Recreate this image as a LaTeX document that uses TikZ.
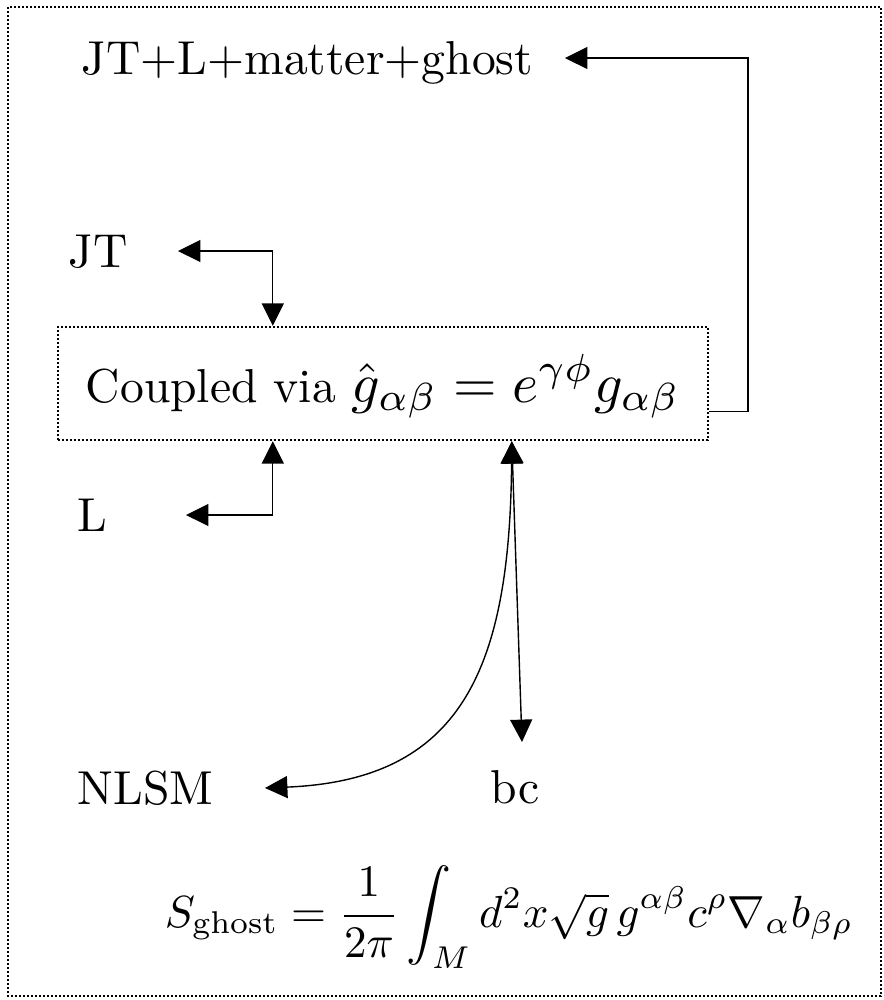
\documentclass[tikz,border=0pt]{standalone}
\usepackage{fix-cm}
\usetikzlibrary{arrows.meta,calc}
\newcommand{\bigtxt}[1]{\scalebox{1.19}{#1}}
\begin{document}
\begin{tikzpicture}[x=0.25pt,y=-0.25pt,
  tip/.tip={Triangle[length=5.6pt,width=5.5pt]},
  arr/.style={line width=0.35pt,-tip},
  arrb/.style={line width=0.35pt,tip-tip},
  dotline/.style={line width=0.6pt,dash pattern=on 0.5pt off 0.5pt},
  lab/.style={inner sep=0pt,text height=8.2pt,text depth=0pt}]
\useasboundingbox (0,0) rectangle (883,1000);
\draw[dotline] (8,7) rectangle (881,996);
% nodes
\node[lab,anchor=west] (top) at (81,58) {\bigtxt{JT+L+matter+ghost}};
\node[lab,anchor=west] (JT) at (68,251) {\bigtxt{JT}};
\node[lab,anchor=west] (L) at (77,515) {\bigtxt{L}};
\node[lab,anchor=west] (NLSM) at (77,788) {\bigtxt{NLSM}};
\node[lab,anchor=west] (bc) at (490,787) {\bigtxt{bc}};
\node[draw,dotline,minimum width=162.5pt,minimum height=28.25pt,inner sep=0pt,
      text height=12pt,text depth=2.75pt]
  (box) at (383,383.5) {\scalebox{1.19}{Coupled via\ }\scalebox{1.4}{$\hat g_{\alpha\beta} = e^{\gamma\phi} g_{\alpha\beta}$}\hspace{3pt}};
\node[anchor=base west,inner sep=0pt] (ghost) at (164,927)
  {\scalebox{1.125}{$\displaystyle S_{\mathrm{ghost}} = \frac{1}{2\pi}\int_M d^2x\sqrt{g}\,g^{\alpha\beta}c^{\rho}\nabla_{\alpha}b_{\beta\rho}$}};
% connectors
\draw[arr] ($(box.south east)+(0,-30)$) -- ++(39,0) |- ($(top.west)+(484,0)$);
\draw[arrb] ($(JT.west)+(110,0)$) -| ($(box.north west)+(216,0)$);
\draw[arrb] ($(L.west)+(109,0)$) -| ($(box.south west)+(216,0)$);
\draw[arrb] ($(box.south west)+(455,0)$) .. controls +(-2,230) and +(195,-8) .. ($(NLSM.west)+(188,0)$);
\draw[arrb] ($(box.south west)+(455,0)$) -- ($(bc.west)+(32,-45)$);
\end{tikzpicture}
\end{document}
